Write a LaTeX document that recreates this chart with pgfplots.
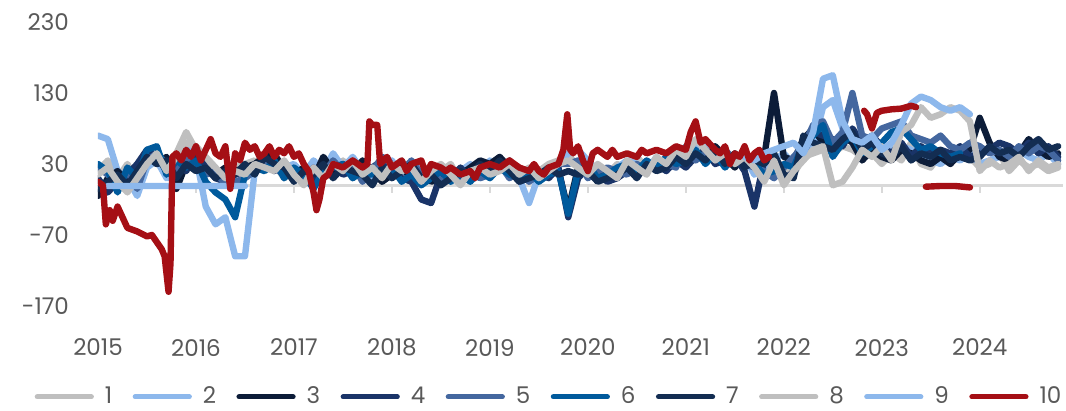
\documentclass[border=0pt]{standalone}
\usepackage{pgfplots}
\pgfplotsset{compat=1.18}
\usepackage{pgfplotstable}
\usepackage{fontspec}
\setmainfont{Poppins}

\definecolor{cA}{HTML}{BFBFBF}
\definecolor{cB}{HTML}{8DB8EC}
\definecolor{cC}{HTML}{0C1C38}
\definecolor{cD}{HTML}{1A3468}
\definecolor{cE}{HTML}{44679F}
\definecolor{cF}{HTML}{005A9C}
\definecolor{cG}{HTML}{132D52}
\definecolor{cJ}{HTML}{A50F15}
\definecolor{txt}{HTML}{595959}
\definecolor{zl}{HTML}{D9D9D9}

% series 1-9, step 0.1 year
\pgfplotstableread{
x      s1   s2   s3   s4   s5   s6   s7   s8   s9
2015.0 20   70   -15  10   25   30   -5   15   nan
2015.1 35   65   10   -10  15   20   5    25   -1
2015.2 10   20   20   5    0    -10  15   5    -1
2015.3 30   10   5    15   20   25   0    -10  -1
2015.4 5    -15  25   30   -5   10   20   10   -1
2015.5 40   25   45   50   35   50   40   30   -1
2015.6 50   35   30   40   45   55   30   45   -1
2015.7 25   10   40   20   30   15   35   20   -1
2015.8 45   15   -5   30   20   35   10   40   -1
2015.9 75   55   30   20   40   25   30   60   -1
2016.0 50   40   25   45   30   35   20   55   -1
2016.1 30   -30  20   25   15   5    25   40   -1
2016.2 20   -55  15   10   20   -10  10   25   -1
2016.3 15   -45  25   5    0    -20  20   10   -1
2016.4 25   -100 20   15   5    -45  15   20   -1
2016.5 30   -100 25   20   10   15   30   15   -1
2016.6 35   20   30   25   20   25   15   30   nan
2016.7 20   35   40   35   30   20   40   25   nan
2016.8 30   40   45   20   25   35   30   20   nan
2016.9 10   25   20   30   15   10   25   35   nan
2017.0 25   30   15   10   20   25   5    15   nan
2017.1 5    15   25   20   10   15   20   0    nan
2017.2 20   35   10   5    25   -5   15   25   nan
2017.3 30   20   40   25   15   20   30   10   nan
2017.4 15   45   20   30   35   25   10   30   nan
2017.5 35   25   30   15   20   30   25   20   nan
2017.6 10   40   15   20   30   10   20   35   nan
2017.7 25   20   35   10   5    20   15   15   nan
2017.8 15   10   20   25   20   15   0    25   nan
2017.9 30   25   5    35   40   20   25   10   nan
2018.0 20   35   15   20   30   25   10   30   nan
2018.1 35   15   25   10   20   5    20   20   nan
2018.2 10   20   10   5    35   15   30   25   nan
2018.3 25   30   20   -20  15   0    10   5    nan
2018.4 15   10   5    -25  25   10   15   20   nan
2018.5 20   25   10   15   5    20   0    30   nan
2018.6 30   15   20   10   15   5    10   15   nan
2018.7 5    20   15   25   10   15   20   0    nan
2018.8 15   30   25   10   20   5    15   20   nan
2018.9 25   10   35   15   10   20   30   25   nan
2019.0 20   35   30   25   15   10   20   15   nan
2019.1 30   25   40   20   30   25   35   20   nan
2019.2 15   20   25   35   10   15   20   30   nan
2019.3 25   10   15   5    20   10   5    15   nan
2019.4 10   -25  20   15   5    20   10   25   nan
2019.5 20   15   10   20   15   5    15   10   nan
2019.6 30   20   25   10   20   15   25   20   nan
2019.7 35   30   20   25   30   20   15   30   nan
2019.8 40   45   -35  -45  30   -40  20   35   nan
2019.9 30   50   25   10   35   20   15   25   nan
2020.0 20   35   15   25   10   30   20   15   nan
2020.1 25   20   10   15   20   10   5    30   nan
2020.2 15   10   20   5    25   15   10   20   nan
2020.3 30   25   15   10   20   25   15   10   nan
2020.4 20   35   25   20   15   30   25   35   nan
2020.5 40   30   20   15   30   20   10   25   nan
2020.6 25   20   30   25   20   35   30   15   nan
2020.7 35   40   25   30   35   25   20   40   nan
2020.8 30   25   35   20   30   40   25   30   nan
2020.9 45   50   30   35   25   30   40   50   nan
2021.0 35   45   40   25   55   35   30   40   nan
2021.1 60   55   45   40   35   50   45   65   nan
2021.2 40   60   35   50   45   30   35   50   nan
2021.3 50   35   55   30   40   45   50   35   nan
2021.4 30   45   40   35   50   25   30   45   nan
2021.5 45   30   25   40   35   40   45   30   nan
2021.6 35   40   45   20   30   35   25   40   40
2021.7 20   15   30   -30  25   30   35   25   35
2021.8 10   25   40   35   20   15   30   5    45
2021.9 30   35   130  40   10   20   45   35   50
2022.0 20   45   40   5    25   30   15   0    55
2022.1 15   30   35   20   40   25   10   20   60
2022.2 40   50   65   45   55   60   70   35   45
2022.3 45   55   80   75   85   70   60   50   75
2022.4 50   110  60   70   90   85   55   55   150
2022.5 45   120  45   65   60   40   50   0    155
2022.6 55   80   70   55   75   60   65   5    90
2022.7 50   70   60   80   130  70   75   25   65
2022.8 40   55   35   60   70   45   50   50   60
2022.9 45   60   50   70   65   55   60   40   70
2023.0 30   45   40   55   80   60   45   55   50
2023.1 45   50   35   45   85   75   40   35   60
2023.2 35   55   50   60   90   80   55   75   85
2023.3 60   50   45   40   70   65   35   85   115
2023.4 30   40   35   55   65   50   45   110  125
2023.5 25   35   30   45   60   55   40   95   120
2023.6 45   30   40   50   70   45   50   100  110
2023.7 35   40   30   45   55   40   35   110  105
2023.8 50   35   45   55   50   45   40   105  110
2023.9 40   45   50   40   60   nan  35   90   100
2024.0 25   30   95   45   55   nan  40   20   nan
2024.1 30   35   60   50   45   nan  55   35   nan
2024.2 45   40   40   60   50   nan  45   25   nan
2024.3 20   45   35   55   40   nan  50   30   nan
2024.4 35   50   45   45   55   nan  40   40   nan
2024.5 25   40   65   60   45   nan  55   20   nan
2024.6 30   35   50   45   55   nan  65   35   nan
2024.7 20   45   40   55   50   nan  50   25   nan
2024.8 25   30   45   40   35   nan  55   30   nan
}\maindata

% series 10
\pgfplotstableread{
x       y
2015.00 5
2015.05 0
2015.08 -55
2015.12 -35
2015.15 -50
2015.20 -30
2015.25 -45
2015.30 -60
2015.40 -65
2015.50 -72
2015.55 -70
2015.60 -80
2015.65 -90
2015.68 -100
2015.72 -150
2015.74 -110
2015.76 40
2015.80 45
2015.85 35
2015.90 50
2015.95 40
2016.00 55
2016.05 35
2016.10 50
2016.15 65
2016.20 45
2016.25 40
2016.30 55
2016.35 -5
2016.40 45
2016.45 35
2016.50 60
2016.55 50
2016.60 55
2016.65 40
2016.70 45
2016.75 55
2016.80 40
2016.85 50
2016.90 45
2016.95 55
2017.00 40
2017.05 45
2017.10 30
2017.15 20
2017.20 -10
2017.23 -35
2017.26 -20
2017.30 10
2017.35 15
2017.40 30
2017.50 25
2017.60 35
2017.70 25
2017.75 30
2017.77 90
2017.80 85
2017.85 85
2017.88 30
2017.95 40
2018.00 25
2018.10 35
2018.15 20
2018.20 30
2018.30 35
2018.35 15
2018.40 30
2018.50 25
2018.55 20
2018.60 25
2018.70 15
2018.80 20
2018.85 10
2018.90 25
2019.00 30
2019.10 25
2019.20 35
2019.30 25
2019.40 20
2019.45 30
2019.50 20
2019.55 15
2019.60 25
2019.70 30
2019.75 50
2019.79 100
2019.82 50
2019.85 45
2019.90 55
2019.95 35
2020.00 20
2020.05 45
2020.10 50
2020.20 40
2020.25 50
2020.30 40
2020.40 45
2020.50 40
2020.55 50
2020.60 45
2020.70 50
2020.80 45
2020.90 55
2021.00 50
2021.05 75
2021.10 90
2021.15 60
2021.20 65
2021.30 50
2021.35 45
2021.40 55
2021.45 30
2021.50 45
2021.55 40
2021.60 55
2021.65 35
2021.70 45
2021.75 50
2021.80 35
2021.85 40
2021.86 nan
2022.82 105
2022.85 100
2022.90 80
2022.95 102
2023.00 105
2023.10 107
2023.20 108
2023.30 112
2023.35 110
2023.40 nan
2023.45 -2
2023.60 -1
2023.75 -1
2023.90 -3
}\reddata

\begin{document}
\begin{tikzpicture}
\begin{axis}[
    scale only axis,
    width=482.5pt, height=142pt,
    xmin=2015, xmax=2024.85,
    ymin=-170, ymax=230,
    ytick={-170,-70,30,130,230},
    xtick={2015,2016,...,2024},
    axis line style={draw=none},
    major tick length=0pt,
    x tick label style={/pgf/number format/1000 sep={}, yshift=-13pt},
    y tick label style={xshift=-11pt},
    /pgf/number format/assume math mode=true,
    tick label style={font=\fontsize{11.5}{13}\selectfont, text=txt},
    unbounded coords=jump,
    every axis plot/.append style={line width=3.2pt, line cap=round, line join=round},
    legend columns=10,
    legend style={at={(-0.066,-0.32)}, anchor=west, draw=none, inner sep=0pt,
        font=\fontsize{11.5}{13}\selectfont, text=txt,
        /tikz/every odd column/.append style={column sep=3.5pt},
        /tikz/every even column/.append style={column sep=8.2pt}},
    legend image code/.code={\draw[#1, line width=2.6pt, line cap=round] (0pt,0pt) -- (27pt,0pt);},
]
\draw[zl, line width=1.5pt] (axis cs:2015,0) -- (axis cs:2024.85,0);
\pgfplotsinvokeforeach{2015,...,2024}{
  \draw[zl, line width=1pt] (axis cs:#1,0) -- ++(0pt,-4pt);
}
\addplot[cA] table[x=x, y=s1] {\maindata};
\addplot[cB] table[x=x, y=s2] {\maindata};
\addplot[cC] table[x=x, y=s3] {\maindata};
\addplot[cD] table[x=x, y=s4] {\maindata};
\addplot[cE] table[x=x, y=s5] {\maindata};
\addplot[cF] table[x=x, y=s6] {\maindata};
\addplot[cG] table[x=x, y=s7] {\maindata};
\addplot[cA] table[x=x, y=s8] {\maindata};
\addplot[cB] table[x=x, y=s9] {\maindata};
\addplot[cJ] table[x=x, y=y] {\reddata};
\legend{1,2,3,4,5,6,7,8,9,10}
\end{axis}
\path (current axis.south west) ++(-49pt,-49.5pt);
\path (current axis.north east) ++(1.5pt,11pt);
\end{tikzpicture}
\end{document}
